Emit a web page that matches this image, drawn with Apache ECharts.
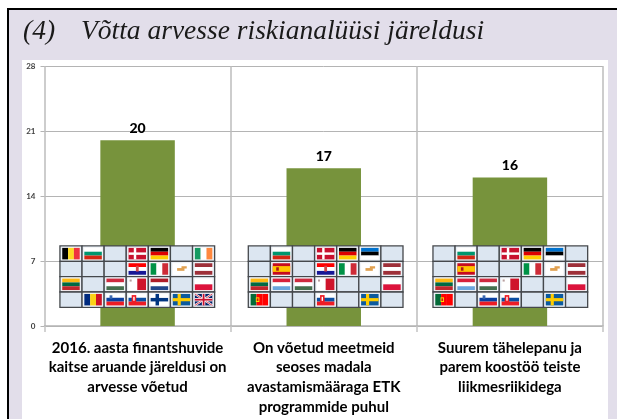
<!DOCTYPE html>
<html><head><meta charset="utf-8">
<style>html,body{margin:0;padding:0;background:#fff}#c{width:617px;height:419px}</style>
<script src="https://cdn.jsdelivr.net/npm/echarts@6/dist/echarts.min.js"></script>
</head><body><div id="c"></div>
<script>
const categories = ["2016. aasta finantshuvide\nkaitse aruande järeldusi on\narvesse võetud",
  "On võetud meetmeid\nseoses madala\navastamismääraga ETK\nprogrammide puhul",
  "Suurem tähelepanu ja\nparem koostöö teiste\nliikmesriikidega"];
const values = [20, 17, 16];
const tableNumber = "(4)";
const tableTitle = "Võtta arvesse riskianalüüsi järeldusi";
const flagsA = [["BE","BG","","DK","DE","","IE"],["","","","HR","IT","CY","LV"],["LT","","HU","MT","NL","","PL"],["","RO","SI","SK","FI","SE","UK"]];
const flagsB = [["","BG","","DK","DE","EE",""],["","ES","","HR","IT","CY","LV"],["LT","LU","HU","MT","","","PL"],["PT","","","SK","","SE",""]];
const flagsC = [["","BG","","DK","DE","EE",""],["","ES","","","IT","CY","LV"],["LT","LU","HU","MT","","","PL"],["PT","","SI","SK","","SE",""]];

const R="#c8102e",W="#ffffff",K="#000000",Y="#ffce00";
const stripes = {
  BE:["v",K,"#fdda24","#ef3340"],BG:["h",W,"#00966e","#d62612"],DK:["h",R],DE:["h",K,"#dd0000",Y],
  IE:["v","#169b62",W,"#ff883e"],HR:["h","#ff0000",W,"#171796"],IT:["v","#009246",W,"#ce2b37"],
  CY:["h",W],LV:["h","#9e3039",W,"#9e3039"],LT:["h","#fdb913","#006a44","#c1272d"],
  HU:["h","#cd2a3e",W,"#436f4d"],MT:["v",W,"#cf142b"],NL:["h","#ae1c28",W,"#21468b"],
  PL:["h",W,"#dc143c"],RO:["v","#002b7f","#fcd116","#ce1126"],SI:["h",W,"#0a3fa0","#ed1c24"],
  SK:["h",W,"#0b4ea2","#ee1c25"],FI:["h",W],SE:["h","#0b5a9e"],UK:["h","#012169"],
  EE:["h","#0072ce",K,W],ES:["v","#c60b1e"],LU:["h","#d8213a",W,"#6aa5dc"],PT:["v","#046a38","#ff0000","#ff0000"]
};
const GRID = {left:44.5, right:14, top:66, bottom:93};
const CELL_W=22.1, CELL_H=15.35, FLAG_W=17.5, FLAG_H=11.5;
const TABLE_TOP_VALUE=8.62;
const TABLE_SHIFT=[-0.3,1.9,0.4];
const tables=[flagsA,flagsB,flagsC];
const cells=[];
tables.forEach((t,ti)=>t.forEach((row,ri)=>row.forEach((code,ci)=>cells.push({ti,ri,ci,code}))));

function flagShapes(code,x,y,w,h){
  const out=[]; const s=stripes[code]; const rect=(a,b,c,d,f)=>out.push({type:'rect',shape:{x:x+a*w,y:y+b*h,width:c*w,height:d*h},style:{fill:f}});
  const cols=s.slice(1);
  cols.forEach((f,i)=>{ if(s[0]==="h") rect(0,i/cols.length,1,1/cols.length,f); else rect(i/cols.length,0,1/cols.length,1,f); });
  const cross=(f,vx,t)=>{rect(vx,0,t,1,f);rect(0,.5-t*w/h/2,1,t*w/h,f);};
  if(code==="DK") cross(W,.3,.14);
  if(code==="FI") cross("#003580",.28,.2);
  if(code==="SE") cross("#fecc00",.28,.18);
  if(code==="ES") {rect(0,.25,1,.5,"#ffc400");rect(.2,.35,.15,.3,"#ad1519");}
  if(code==="HR") rect(.42,.22,.16,.5,"#d04a4a");
  if(code==="SK") {rect(.18,.1,.26,.7,"#ee1c25");rect(.27,.25,.08,.35,W);}
  if(code==="SI") rect(.18,.12,.16,.3,"#3a68b0");
  if(code==="PT") {rect(.3,.3,.2,.4,"#ffe000");rect(.35,.38,.1,.24,"#d0101a");}
  if(code==="MT") rect(.06,.08,.12,.18,"#b9a0a0");
  if(code==="CY") {rect(.25,.42,.42,.24,"#e0a050");rect(.5,.26,.3,.2,"#e0a050");}
  if(code==="UK"){
    const ln=(a,b,c,d,col,wd)=>out.push({type:'line',shape:{x1:x+a*w,y1:y+b*h,x2:x+c*w,y2:y+d*h},style:{stroke:col,lineWidth:wd}});
    ln(0,0,1,1,W,2.2);ln(1,0,0,1,W,2.2);ln(0,0,1,1,R,.8);ln(1,0,0,1,R,.8);
    ln(.5,0,.5,1,W,3.4);ln(0,.5,1,.5,W,3.4);ln(.5,0,.5,1,R,1.8);ln(0,.5,1,.5,R,1.8);
  }
  return out;
}

const chart=echarts.init(document.getElementById('c'),null,{renderer:'canvas'});
chart.setOption({
  animation:false,
  backgroundColor:'#ffffff',
  graphic:[
    {type:'rect',z:-10,shape:{x:7,y:8,width:610,height:411},style:{fill:'#000000'}},
    {type:'rect',z:-9,shape:{x:9,y:10,width:608,height:409},style:{fill:'#e2deea'}},
    {type:'rect',z:-8,shape:{x:22,y:60,width:586,height:359},style:{fill:'#ffffff'}},
    {type:'text',z:5,left:23,top:18,style:{text:tableNumber,font:'italic 27.5px "Liberation Serif"',fill:'#1a1a1a'}},
    {type:'text',z:5,left:81,top:18,style:{text:tableTitle,font:'italic 27.5px "Liberation Serif"',fill:'#1a1a1a'}}
  ],
  grid:GRID,
  xAxis:{type:'category',data:categories,
    axisLine:{lineStyle:{color:'#b4b4b4',width:1.5}},
    axisTick:{show:true,alignWithLabel:false,length:6,lineStyle:{color:'#c4c4c4',width:1.5}},
    splitLine:{show:true,lineStyle:{color:'#bdbdbd',width:1.5}},
    axisLabel:{interval:0,margin:12,color:'#000000',fontFamily:'Lato',fontWeight:700,fontSize:15,lineHeight:19.7}},
  yAxis:{type:'value',min:0,max:28,interval:7,
    axisLine:{show:false},
    axisTick:{show:true,length:4,lineStyle:{color:'#b4b4b4'}},
    splitLine:{show:true,lineStyle:{color:'#b4b4b4',width:1}},
    axisLabel:{margin:9,color:'#404040',fontFamily:'Lato',fontWeight:700,fontSize:8}},
  series:[
    {type:'bar',data:values,barWidth:'40%',z:2,
     itemStyle:{color:'#77933c'},
     label:{show:true,position:'top',distance:5,color:'#000000',fontFamily:'Lato',fontWeight:900,fontSize:14}},
    {type:'custom',z:3,clip:false,silent:true,
     data:cells.map(c=>[c.ti,TABLE_TOP_VALUE]),
     encode:{x:0,y:1},
     renderItem:(params,api)=>{
       const c=cells[params.dataIndex];
       const p=api.coord([api.value(0),api.value(1)]);
       const x=p[0]+TABLE_SHIFT[c.ti]-3.5*CELL_W+c.ci*CELL_W;
       const y=p[1]+c.ri*CELL_H;
       const kids=[{type:'rect',shape:{x,y,width:CELL_W,height:CELL_H},style:{fill:'#dce6f1',stroke:'#45484c',lineWidth:1.3}}];
       if(c.code){
         const fx=x+(CELL_W-FLAG_W)/2, fy=y+(CELL_H-FLAG_H)/2;
         kids.push({type:'rect',shape:{x:fx-1,y:fy-1,width:FLAG_W+2,height:FLAG_H+2},style:{fill:'#f3f5f8'}});
         kids.push(...flagShapes(c.code,fx,fy,FLAG_W,FLAG_H));
       }
       return {type:'group',children:kids};
     }}
  ]
});
</script></body></html>
